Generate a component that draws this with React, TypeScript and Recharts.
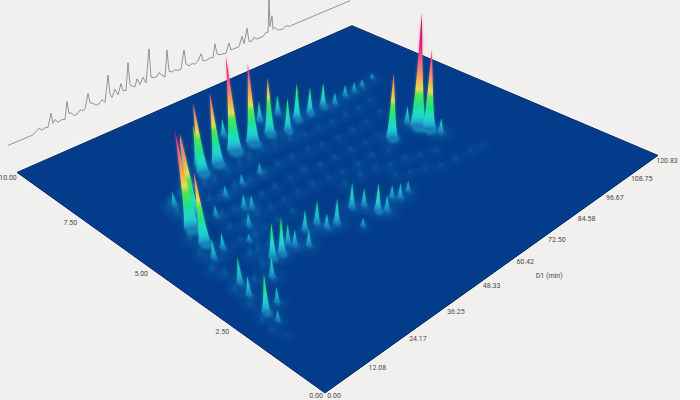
import React from "react";
import { ComposedChart, Area, Line, Scatter, XAxis, YAxis } from "recharts";

// retention on the first dimension (min), second dimension (s), detector signal
const peakD1 = [15.9, 26.6, 19.5, 32.9, 34.3, 38.3, 45.4, 48.3, 51.4, 57.6, 60.3, 66.3, 62.1, 68.1, 72.9, 78.2, 81.3, 86.6, 90.5, 94.2, 99.8, 79.0, 88.6, 89.5, 87.7, 90.1, 14.3, 12.2, 16.0, 10.5, 9.1, 8.0, 11.8, 8.0, 16.8, 21.7, 24.2, 27.7, 28.3, 33.9, 30.5, 37.8, 38.3, 41.1, 48.3, 50.9, 51.8, 53.3, 58.2, 59.6, 44.8, 63.2, 18.9, 36.6, 30.3, 30.1, 31.4, 23.2, 26.0, 22.2, 43.0];
const peakD2 = [5.47, 6.81, 5.81, 6.99, 7.29, 7.04, 7.2, 7.91, 7.17, 7.19, 7.83, 7.77, 6.99, 7.25, 7.24, 7.26, 7.12, 7.23, 7.25, 7.29, 7.41, 4.97, 4.9, 4.62, 5.19, 4.29, 4.86, 4.33, 4.46, 3.35, 2.94, 2.33, 2.4, 2.0, 3.04, 3.51, 3.48, 3.64, 3.49, 3.72, 3.28, 3.72, 3.47, 3.42, 3.61, 3.47, 3.13, 2.99, 3.25, 3.12, 2.97, 3.18, 6.4, 6.02, 5.91, 5.27, 5.15, 5.47, 4.69, 4.29, 6.07];
const peakSignal = [78, 42, 66, 59, 34, 61, 82, 15, 70, 50, 18, 17, 29, 32, 23, 21, 10, 10, 8, 6, 4, 57, 102, 71, 15, 13, 55, 14, 12, 19, 14, 27, 11, 7, 15, 26, 27, 15, 12, 16, 12, 18, 11, 20, 20, 14, 22, 12, 10, 12, 6, 8, 11, 8, 8, 11, 10, 8, 10, 5, 8];

const hazeD1 = [29.5, 32.7, 37.4, 41.6, 45.6, 50.4, 54.4, 58.9, 63.5, 68.5, 73.3, 78.5, 83.8, 89.5, 26.2, 29.7, 33.9, 38.8, 43.9, 48.4, 53.2, 58.8, 63.1, 68.6, 74.1, 79.8, 86.5, 24.2, 27.7, 32.1, 36.5, 41.1, 46.5, 51.5, 56.0, 61.0, 66.5, 72.1, 77.1, 22.1, 26.2, 30.2, 34.2, 38.8, 43.6, 48.2, 53.2, 57.6, 62.8, 68.8, 73.5, 20.7, 24.4, 27.9, 32.2, 36.8, 53.9, 59.8, 64.8, 68.5, 73.7, 77.5, 82.1, 18.6, 21.1, 18.1, 13.4, 24.0, 66.0, 69.6, 73.7, 77.5, 82.7, 88.5, 92.6, 22.5, 18.1, 16.9, 12.6, 10.7, 9.1, 10.0, 8.1, 7.1, 5.7, 5.0, 5.9];
const hazeD2 = [6.54, 6.54, 6.59, 6.62, 6.68, 6.75, 6.7, 6.61, 6.52, 6.54, 6.5, 6.51, 6.53, 6.6, 6.01, 5.97, 5.98, 5.98, 5.99, 6.0, 5.99, 5.98, 5.9, 5.86, 5.88, 5.91, 6.0, 5.38, 5.33, 5.36, 5.34, 5.37, 5.4, 5.42, 5.31, 5.28, 5.28, 5.27, 5.27, 4.9, 4.84, 4.83, 4.84, 4.85, 4.86, 4.84, 4.79, 4.74, 4.69, 4.76, 4.64, 4.42, 4.33, 4.37, 4.39, 4.39, 4.32, 4.36, 4.32, 4.16, 4.12, 3.96, 3.85, 3.89, 3.9, 3.47, 3.21, 3.88, 3.8, 3.64, 3.51, 3.34, 3.29, 3.27, 3.21, 6.63, 6.47, 6.05, 5.16, 4.61, 4.06, 3.75, 3.25, 2.7, 2.21, 1.87, 1.6];
const hazeSignal = [8, 7, 8, 7, 8, 7, 6, 6, 5, 5, 4, 4, 4, 3, 7, 6, 8, 6, 5, 6, 5, 5, 4, 4, 4, 3, 3, 6, 5, 7, 5, 5, 4, 5, 4, 4, 4, 3, 3, 6, 5, 5, 6, 4, 4, 5, 4, 4, 5, 4, 4, 5, 6, 4, 5, 5, 5, 4, 4, 4, 4, 3, 3, 8, 6, 7, 6, 5, 3, 3, 3, 3, 3, 3, 2, 7, 9, 9, 9, 7, 7, 7, 6, 5, 4, 3, 2];

const ticScan = [0, 25, 28, 31, 34, 38, 40, 43, 45, 47, 50, 54, 57, 59, 61, 63, 66, 69, 72, 75, 77, 80, 82, 85, 88, 91, 94, 97, 100, 102, 104, 107, 110, 113, 115, 118, 120, 122, 125, 127, 129, 132, 135, 138, 141, 143, 146, 149, 151, 154, 157, 159, 161, 164, 167, 170, 173, 176, 178, 181, 184, 187, 190, 193, 195, 198, 202, 205, 207, 209, 212, 218, 221, 223, 228, 231, 234, 236, 239, 241, 244, 246, 249, 255, 258, 260, 261, 262, 264, 265, 267, 270, 275, 278, 281, 342];
const ticSignal = [0, 0, 2, 4, 1, 2, 1, 14, 3, 6, 2, 3, 2, 19, 6, 6, 2, 2, 5, 3, 4, 18, 8, 6, 3, 3, 6, 2, 28, 8, 4, 11, 4, 14, 6, 5, 32, 9, 6, 5, 12, 5, 11, 4, 37, 8, 6, 6, 9, 5, 2, 28, 6, 4, 5, 3, 3, 21, 6, 3, 4, 2, 4, 10, 2, 1, 2, 1, 14, 3, 1, 0, 9, 1, 1, 1, 10, 2, 16, 2, 1, 4, 1, 1, 4, 3, 35, 8, 18, 4, 5, 1, 0, 2, 0, 0];

const d1Ticks = ["12.08", "24.17", "36.25", "48.33", "60.42", "72.50", "84.58", "96.67", "108.75", "120.83"];
const d2Ticks = ["2.50", "5.00", "7.50", "10.00"];

const WIDTH = 700;
const HEIGHT = 400;
const D1_MAX = 120.83;
const D2_MAX = 10;
const FULL_SCALE = 102;

// colour map of the plot, signal -> colour
const colourStops: [number, string][] = [
  [0, "#1a7cbc"],
  [3, "#1fa8cc"],
  [7, "#20cccc"],
  [12, "#20dcc0"],
  [18, "#1fe28a"],
  [28, "#55e455"],
  [33, "#e2de55"],
  [43, "#f2aa55"],
  [58, "#ec6488"],
  [75, "#e01878"],
  [102, "#c01270"],
];

// floor plane seen in perspective, (d1, d2) -> page position
function project(d1: number, d2: number) {
  const u = d1 / D1_MAX;
  const v = d2 / D2_MAX;
  const w = 1 + 0.3477 * u + 0.3116 * v;
  return {
    sx: (561.8 * u - 302.7 * v + 325) / w,
    sy: (-184.1 * u - 167.4 * v + 393) / w,
    w,
  };
}

const toMarks = (d1: number[], d2: number[], signal: number[]) =>
  d1
    .map((d, i) => ({ ...project(d, d2[i]), signal: signal[i] }))
    .sort((a, b) => a.sy - b.sy);

const peaks = toMarks(peakD1, peakD2, peakSignal);
const haze = toMarks(hazeD1, hazeD2, hazeSignal);

const left = project(0, D2_MAX);
const bottom = project(0, 0);
const back = project(D1_MAX, D2_MAX);
const right = project(D1_MAX, 0);
const edgeY = (a: typeof left, b: typeof left, x: number) => a.sy + ((b.sy - a.sy) * (x - a.sx)) / (b.sx - a.sx);
const plane = [
  { sx: left.sx, sy: left.sy, band: [left.sy, left.sy] },
  { sx: bottom.sx, sy: bottom.sy, band: [edgeY(left, back, bottom.sx), bottom.sy] },
  { sx: back.sx, sy: back.sy, band: [back.sy, edgeY(bottom, right, back.sx)] },
  { sx: right.sx, sy: right.sy, band: [right.sy, right.sy] },
];

const trace = ticScan.map((s, i) => ({ sx: 8 + s, sy: 145 - 0.424 * s - ticSignal[i] }));

const d1Labels = d1Ticks.map((t) => ({ ...project(Number(t), 0), text: t, dx: 9, dy: 6 }));
const d2Labels = d2Ticks.map((t) => ({ ...project(0, Number(t)), text: t, dx: -9, dy: 6 }));
const extraLabels = [
  { ...project(60.42, 0), text: "D1 (min)", dx: 33, dy: 20 },
  { ...project(0, 0), text: "0.00", dx: -9, dy: 3 },
  { ...project(0, 0), text: "0.00", dx: 9, dy: 3 },
];

// diffuse glow the small compounds leave on the floor
function Glow(props: any) {
  const { cx, cy, payload } = props;
  const rx = Math.min(13, 6 + payload.signal * 0.5);
  return (
    <ellipse
      cx={cx + 1}
      cy={cy + 1}
      rx={rx}
      ry={rx * 0.6}
      fill="#1f7cc0"
      opacity={0.2}
      filter="url(#glowBlur)"
    />
  );
}

function Spike(props: any) {
  const { cx, cy, payload, soft } = props;
  const pxPerSignal = 1.55 / payload.w;
  const h = payload.signal * pxPerSignal;
  let lean = (cx - 300) / (850 - cy);
  if (lean > 0) lean *= 0.2;
  const tx = cx + lean * h;
  const ty = cy - h;
  const hw = soft ? 2.6 : Math.min(8, 2.6 + h * 0.055);
  const id = `c${Math.round(cx * 10)}-${Math.round(cy * 10)}`;
  const topY = cy - FULL_SCALE * pxPerSignal;
  const topX = cx + lean * FULL_SCALE * pxPerSignal;
  const mid = (k: number, off: number) => `${cx + lean * h * k + off},${cy - h * k}`;
  const upper = Math.min(2.2, 0.8 + h * 0.02);
  const d =
    `M${cx - hw},${cy} C${mid(0.14, -hw * 0.5)} ${mid(0.6, -upper)} ${tx},${ty} ` +
    `C${mid(0.6, upper)} ${mid(0.14, hw * 0.5)} ${cx + hw},${cy} ` +
    `Q${cx + 1},${cy + hw * 0.8} ${cx - hw},${cy} Z`;
  return (
    <g>
      <defs>
        <linearGradient id={id} gradientUnits="userSpaceOnUse" x1={cx} y1={cy} x2={topX} y2={topY}>
          {colourStops.map(([s, c]) => (
            <stop key={s} offset={s / FULL_SCALE} stopColor={c} />
          ))}
        </linearGradient>
      </defs>
      {!soft && (
        <ellipse
          cx={cx + 1.5}
          cy={cy + 1.5}
          rx={hw}
          ry={hw * 0.7}
          fill="#20c0cc"
          opacity={payload.signal > 20 ? 0.5 : 0.22}
          filter="url(#hazeBlur)"
        />
      )}
      {!soft && <path d={d} fill={`url(#${id})`} opacity={0.5} filter="url(#hazeBlur)" />}
      <path d={d} fill={`url(#${id})`} opacity={soft ? 0.32 : payload.signal > 20 ? 1 : 0.85} filter={soft ? "url(#hazeBlur)" : "url(#peakBlur)"} />
    </g>
  );
}

function AxisLabel(props: any) {
  const { cx, cy, payload } = props;
  return (
    <text
      x={cx + payload.dx}
      y={cy + payload.dy}
      textAnchor="middle"
      dominantBaseline="middle"
      fontFamily="Roboto"
      fontSize={7}
      fill="#4a4a48"
    >
      {payload.text}
    </text>
  );
}

export default function App() {
  return (
    <div style={{ position: "absolute", left: 0, top: 0, width: WIDTH, height: HEIGHT, overflow: "hidden", background: "#fff" }}>
      <div style={{ position: "absolute", left: 0, top: 0, width: 680, height: HEIGHT, background: "#f1f0ee" }} />
      <svg width={0} height={0} style={{ position: "absolute" }}>
        <defs>
          <filter id="peakBlur" x="-100%" y="-20%" width="300%" height="140%">
            <feGaussianBlur stdDeviation="0.6" />
          </filter>
          <filter id="hazeBlur" x="-150%" y="-100%" width="400%" height="300%">
            <feGaussianBlur stdDeviation="1.4" />
          </filter>
          <filter id="glowBlur" x="-100%" y="-100%" width="300%" height="300%">
            <feGaussianBlur stdDeviation="3.5" />
          </filter>
        </defs>
      </svg>
      <div style={{ position: "absolute", left: 0, top: 0 }}>
        <ComposedChart width={WIDTH} height={HEIGHT} data={plane} margin={{ top: 0, right: 0, bottom: 0, left: 0 }}>
          <XAxis dataKey="sx" type="number" domain={[0, WIDTH]} hide />
          <YAxis dataKey="sy" type="number" domain={[0, HEIGHT]} reversed hide />
          <Area dataKey="band" type="linear" fill="none" stroke="#ffffff" strokeWidth={3} strokeOpacity={0.6} activeDot={false} isAnimationActive={false} />
          <Area dataKey="band" type="linear" fill="#033c8a" fillOpacity={1} stroke="#0a2c66" strokeWidth={1} activeDot={false} isAnimationActive={false} />
          <Line data={trace} dataKey="sy" type="linear" stroke="#7d7c79" strokeWidth={0.8} dot={false} activeDot={false} isAnimationActive={false} />
          <Scatter data={haze} isAnimationActive={false} shape={(p: any) => <Glow {...p} />} />
          <Scatter data={peaks} isAnimationActive={false} shape={(p: any) => <Glow {...p} />} />
          <Scatter data={haze} isAnimationActive={false} shape={(p: any) => <Spike {...p} soft />} />
          <Scatter data={peaks} isAnimationActive={false} shape={(p: any) => <Spike {...p} />} />
          <Scatter data={[...d1Labels, ...d2Labels, ...extraLabels]} isAnimationActive={false} shape={(p: any) => <AxisLabel {...p} />} />
        </ComposedChart>
      </div>
    </div>
  );
}
